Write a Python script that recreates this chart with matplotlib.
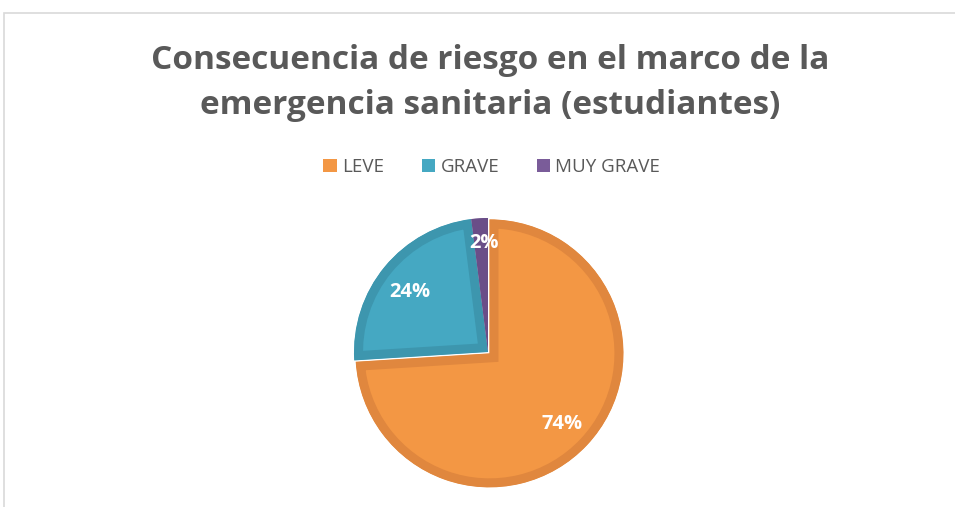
import matplotlib.pyplot as plt
from matplotlib.patches import Rectangle, Wedge

labels = ['LEVE', 'GRAVE', 'MUY GRAVE']
values = [74, 24, 2]
colors = ['#F39744', '#45A8C2', '#7A5C99']
edge_colors = ['#E0873E', '#3D96AE', '#6A4E88']

plt.rcParams['font.family'] = ['Open Sans', 'DejaVu Sans']

W, H = 955, 507
fig = plt.figure(figsize=(W / 100, H / 100), dpi=100)

# light frame around the chart area
fig.patches.append(Rectangle((4 / W, -0.1), 1.1, (H - 13) / H + 0.1,
                             transform=fig.transFigure, fill=False,
                             edgecolor='#D9D9D9', linewidth=1.2))

fig.text(0.513, 1 - 83 / H, 'Consecuencia de riesgo en el marco de la\nemergencia sanitaria (estudiantes)',
         ha='center', va='center', fontsize=24, fontweight='bold', color='#595959',
         linespacing=1.45)

ax = fig.add_axes([0, 0, 1, 1])
ax.axis('off')

wedges, texts, autotexts = ax.pie(
    values, colors=colors, startangle=90, counterclock=False,
    center=(488, H - 352), radius=134, explode=(2, 0, 0),
    autopct='%1.0f%%', pctdistance=0.72,
    wedgeprops=dict(linewidth=13),
    textprops=dict(color='white', fontsize=14.5, fontweight='bold'))
ax.set_xlim(0, W)
ax.set_ylim(0, H)
ax.set_aspect('equal')
for w, ec in zip(wedges, edge_colors):
    w.set_edgecolor(ec)
    # keep only the inner half of the border, like an inset outline
    clip = Wedge(w.center, w.r, w.theta1, w.theta2, transform=ax.transData)
    w.set_clip_on(True)
    w.set_clip_path(clip)

autotexts[0].set_position((562, H - 424))
autotexts[1].set_position((410, H - 292))
autotexts[2].set_position((484, H - 243))

leg = fig.legend(wedges, labels, loc='center', bbox_to_anchor=(0.515, 1 - 167 / H),
                 ncol=3, frameon=False, fontsize=13.5, handlelength=0.7,
                 handleheight=0.7, columnspacing=2.0, handletextpad=0.3)
for t in leg.get_texts():
    t.set_color('#595959')
for h, c in zip(leg.legend_handles, colors):
    h.set_edgecolor(c)
    h.set_linewidth(0)
    h.set_clip_on(False)

fig.savefig('out.png', dpi=100)
